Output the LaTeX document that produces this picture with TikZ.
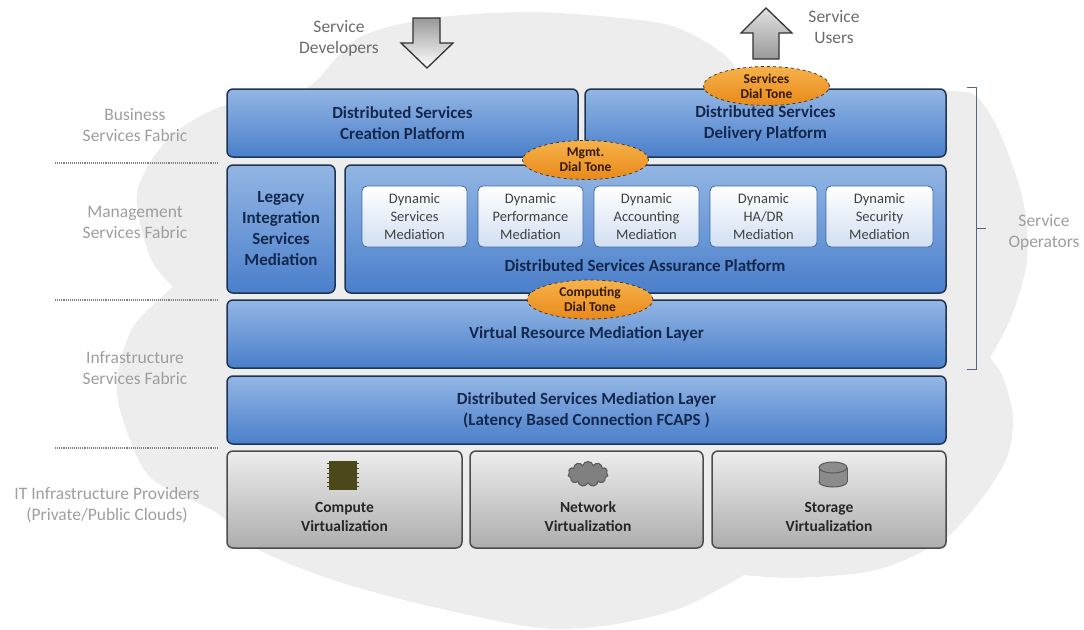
\documentclass[tikz,border=0pt]{standalone}
\usepackage{fontspec}
\setmainfont{Carlito}
\usetikzlibrary{calc, arrows.meta, shapes.geometric, shapes.symbols}

\definecolor{cloudgray}{HTML}{EDEDED}
\definecolor{bluetop}{HTML}{93B6E4}
\definecolor{bluebottom}{HTML}{4A7FCB}
\definecolor{blueline}{HTML}{1E3552}
\definecolor{bluetext}{HTML}{14284E}
\definecolor{orangetop}{HTML}{F6B24A}
\definecolor{orangebottom}{HTML}{E8891A}
\definecolor{chipolive}{HTML}{4B481A}

\tikzset{
  blockbox/.style={draw=blueline, line width=1.5pt, rounded corners=6pt, top color=bluetop, bottom color=bluebottom,
    text=bluetext, font=\fontsize{17}{21}\selectfont\bfseries, align=center, inner sep=0pt},
  blocklabel/.style={text=bluetext, font=\fontsize{17}{21}\selectfont\bfseries, align=center, inner sep=0pt},
  medbox/.style={draw=bluebottom!70!blueline, line width=0.8pt, rounded corners=5pt, top color=white, bottom color=white!75!bluebottom,
    text=black!75, font=\fontsize{14.5}{18}\selectfont, align=center, inner sep=0pt, minimum height=61pt},
  virtbox/.style={draw=black!70, line width=1.5pt, rounded corners=6pt, top color=black!7, bottom color=black!32,
    inner sep=0pt, minimum height=97pt},
  virtlabel/.style={font=\fontsize{15.5}{19}\selectfont\bfseries, text=black!85, align=center, inner sep=0pt},
  dialtone/.style={ellipse, draw=black!80, dashed, line width=0.7pt, top color=orangetop, bottom color=orangebottom,
    text=black!80!orange, font=\fontsize{13.5}{15}\selectfont\bfseries, align=center, inner sep=0pt, minimum width=126pt, minimum height=39pt},
  fabriclabel/.style={text=black!38, font=\fontsize{17.5}{21}\selectfont, align=center, inner sep=0pt},
  rolelabel/.style={text=black!58, font=\fontsize{17.5}{21}\selectfont, align=center, inner sep=0pt},
  fabricline/.style={black!50, line width=1.1pt, densely dotted},
  flowarrow/.style={draw=black!80, line width=1.3pt, line join=miter},
  diskicon/.style={draw=black!65, line width=1pt, fill=black!45},
}

\begin{document}
\begin{tikzpicture}[x=1pt, y=-1pt]
    \useasboundingbox (0, 0) rectangle (1084, 629);

    \fill [cloudgray]
      plot [smooth] coordinates {(300, 92) (317, 80) (360, 37) (433, 18) (533, 12) (640, 20) (683, 30) (727, 57) (750, 92)}
      -- plot [smooth] coordinates {(750, 92) (850, 91) (950, 91) (977, 97) (1000, 133) (1023, 200) (1027, 260) (1012, 315) (990, 358)}
      -- plot [smooth] coordinates {(990, 358) (1003, 377) (1013, 417) (1007, 457) (983, 497) (947, 537) (900, 562) (860, 573) (793, 578) (744, 575)}
      -- plot [smooth] coordinates {(744, 575) (681, 608) (610, 625) (540, 628) (433, 607) (333, 580) (253, 547) (217, 513) (150, 477) (123, 420) (117, 380) (133, 327) (173, 287)}
      -- plot [smooth] coordinates {(173, 287) (150, 257) (137, 193) (167, 140) (220, 107) (300, 92)}
      -- cycle;

    \node (business) [fabriclabel] at (135, 125) {Business\\Services Fabric};
    \node (management) [fabriclabel] at (135, 222) {Management\\Services Fabric};
    \node (infrastructure) [fabriclabel] at (135, 368) {Infrastructure\\Services Fabric};
    \node (providers) [fabriclabel] at (107, 505) {IT Infrastructure Providers\\(Private/Public Clouds)};
    \node (operators) [fabriclabel] at (1044, 232) {Service\\Operators};
    \node (developers) [rolelabel] at (339, 38) {Service\\Developers};
    \node (users) [rolelabel] at (834, 27.5) {Service\\Users};

    \draw [fabricline] (55, 163) -- (218, 163);
    \draw [fabricline] (55, 300) -- (218, 300);
    \draw [fabricline] (55, 448) -- (218, 448);

    \draw [flowarrow, top color=black!40, bottom color=white]
      (413, 18) -- (440, 18) -- (440, 43) -- (453, 43) -- (427, 68) -- (401, 43) -- (413, 43) -- cycle;
    \draw [flowarrow, top color=black!12, bottom color=black!40]
      (753, 59) -- (779, 59) -- (779, 33) -- (792, 33) -- (766, 8) -- (741, 33) -- (753, 33) -- cycle;

    \draw [blueline!75, line width=0.8pt] (967, 87) -- (976, 87) -- (976, 228) -- (986, 228);
    \draw [blueline!75, line width=0.8pt] (976, 228) -- (976, 369) -- (967, 369);

    \node (creation) [blockbox, minimum width=351pt, minimum height=68pt] at (402.5, 123) {Distributed Services\\Creation Platform};
    \node (delivery) [blockbox, minimum width=361pt, minimum height=68pt] at (765.5, 123) {Distributed Services\\Delivery Platform};
    \node (legacy) [blockbox, minimum width=108pt, minimum height=128pt] at (281, 229) {Legacy\\Integration\\Services\\Mediation};
    \node (assurance) [blockbox, minimum width=601pt, minimum height=128pt] at (645.5, 229) {};
    \node (assurancetext) [blocklabel] at (645, 266) {Distributed Services Assurance Platform};
    \node (virtual) [blockbox, minimum width=719pt, minimum height=68pt] at (586.5, 334) {Virtual Resource Mediation Layer};
    \node (mediation) [blockbox, minimum width=719pt, minimum height=68pt] at (586.5, 410) {Distributed Services Mediation Layer\\(Latency Based Connection FCAPS )};

    \node (dynservices) [medbox, minimum width=105pt] at (414.5, 216.5) {Dynamic\\Services\\Mediation};
    \node (dynperformance) [medbox, minimum width=105pt] at (530.5, 216.5) {Dynamic\\Performance\\Mediation};
    \node (dynaccounting) [medbox, minimum width=105pt] at (646.5, 216.5) {Dynamic\\Accounting\\Mediation};
    \node (dynha) [medbox, minimum width=107pt] at (763.5, 216.5) {Dynamic\\HA/DR\\Mediation};
    \node (dynsecurity) [medbox, minimum width=107pt] at (879.5, 216.5) {Dynamic\\Security\\Mediation};

    \node (servicestone) [dialtone] at (766.5, 86) {Services\\Dial Tone};
    \node (mgmttone) [dialtone] at (585.5, 160) {Mgmt.\\Dial Tone};
    \node (computingtone) [dialtone] at (590, 299.5) {Computing\\Dial Tone};

    \node (compute) [virtbox, minimum width=235pt] at (344.5, 499.5) {};
    \node (network) [virtbox, minimum width=233pt] at (586.5, 499.5) {};
    \node (storage) [virtbox, minimum width=234pt] at (829, 499.5) {};
    \node (computetext) [virtlabel] at (344.5, 516.5) {Compute\\Virtualization};
    \node (networktext) [virtlabel] at (588, 516.5) {Network\\Virtualization};
    \node (storagetext) [virtlabel] at (829, 516.5) {Storage\\Virtualization};

    \node (chip) [fill=chipolive, minimum width=28pt, minimum height=29pt, inner sep=0pt] at (343, 475.5) {};
    \foreach \i in {0,...,5} {
      \draw [chipolive, line width=1pt] ($(chip.north west)+(-2, 3+4.6*\i)$) -- ($(chip.north east)+(2, 3+4.6*\i)$);
    }
    \node (cloudicon) [cloud, cloud puffs=11, draw=black!65, line width=1pt, fill=black!50, minimum width=40pt, minimum height=25pt, inner sep=0pt] at (588, 474) {};
    \draw [diskicon] (833, 482) ellipse [x radius=14, y radius=5];
    \fill [black!45] (819, 467.5) rectangle (847, 482);
    \draw [draw=black!65, line width=1pt] (819, 467.5) -- (819, 482);
    \draw [draw=black!65, line width=1pt] (847, 467.5) -- (847, 482);
    \draw [diskicon] (833, 467.5) ellipse [x radius=14, y radius=5.5];
  \end{tikzpicture}
\end{document}
